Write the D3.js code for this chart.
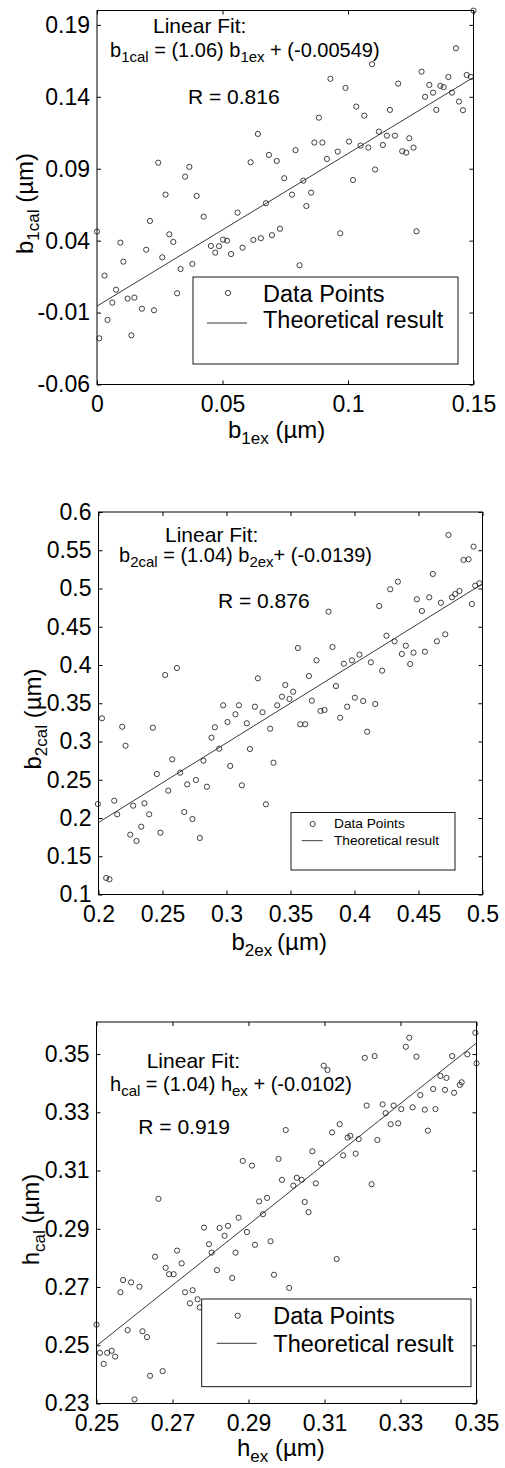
<!DOCTYPE html>
<html>
<head>
<meta charset="utf-8">
<script src="https://cdn.jsdelivr.net/npm/d3@7"></script>
<style>
body { margin: 0; background: #fff; }
svg text { font-family: "Liberation Sans", Arial, Helvetica, sans-serif; fill: #000; }
</style>
</head>
<body>
<svg id="chart" width="505" height="1468"></svg>
<script>
// Panel 1: b1
const b1XTicks = [0, 0.05, 0.1, 0.15]
const b1YTicks = [-0.06, -0.01, 0.04, 0.09, 0.14, 0.19]
const b1XLim = [0, 0.15]
const b1YLim = [-0.06, 0.2]
const b1Fit = [1.06, -0.00549]
const b1R = 0.816
const b1Points = [
    [0.150, 0.1999], [0.143, 0.1738], [0.1096, 0.1627], [0.1293, 0.1575], [0.1473, 0.1552],
    [0.149, 0.1538], [0.093, 0.1525], [0.140, 0.1538], [0.120, 0.1492], [0.1324, 0.1483],
    [0.1368, 0.1476], [0.1381, 0.1467], [0.099, 0.1462], [0.1339, 0.1429], [0.1414, 0.1429],
    [0.1307, 0.14], [0.1442, 0.1367], [0.1033, 0.1332], [0.1352, 0.1309], [0.1458, 0.1307],
    [0.1167, 0.1309], [0.1065, 0.1269], [0.0884, 0.1255], [0.0641, 0.1142], [0.1123, 0.1158],
    [0.1155, 0.113], [0.1187, 0.113], [0.1244, 0.1112], [0.0866, 0.1082], [0.0898, 0.1082],
    [0.1004, 0.1089], [0.1139, 0.1065], [0.105, 0.1061], [0.1081, 0.1047], [0.1261, 0.1047],
    [0.0791, 0.1029], [0.1216, 0.1022], [0.1232, 0.1012], [0.0959, 0.1019], [0.0685, 0.0996],
    [0.0716, 0.0954], [0.0916, 0.0968], [0.0612, 0.0945], [0.0244, 0.0942], [0.0368, 0.0913],
    [0.1108, 0.0895], [0.0351, 0.0845], [0.0746, 0.0834], [0.102, 0.0822], [0.0822, 0.0817],
    [0.0273, 0.072], [0.0397, 0.0711], [0.0777, 0.072], [0.0853, 0.0734], [0.0673, 0.066],
    [0.0834, 0.0641], [0.056, 0.0595], [0.0425, 0.0567], [0.0211, 0.0537], [0, 0.0463],
    [0.0969, 0.0451], [0.1273, 0.0465], [0.0729, 0.0483], [0.0288, 0.0444], [0.0697, 0.0438],
    [0.0304, 0.0391], [0.0093, 0.0386], [0.0502, 0.0407], [0.0518, 0.04], [0.0623, 0.0405],
    [0.0653, 0.0417], [0.0454, 0.0363], [0.0486, 0.0361], [0.058, 0.0351], [0.0471, 0.0317],
    [0.0534, 0.0307], [0.0196, 0.0337], [0.026, 0.0284], [0.0105, 0.0254], [0.0807, 0.0229],
    [0.038, 0.0238], [0.0333, 0.0203], [0.003, 0.0157], [0.0076, 0.0059], [0.0319, 0.0034],
    [0.0061, -0.0031], [0.0122, -0.0003], [0.0149, 0.0004], [0.0179, -0.0073], [0.0227, -0.0084],
    [0.0042, -0.0151], [0.0009, -0.0279], [0.0137, -0.0258]
]

// Panel 2: b2
const b2XTicks = [0.2, 0.25, 0.3, 0.35, 0.4, 0.45, 0.5]
const b2YTicks = [0.1, 0.15, 0.2, 0.25, 0.3, 0.35, 0.4, 0.45, 0.5, 0.55, 0.6]
const b2XLim = [0.2, 0.5]
const b2YLim = [0.1, 0.6]
const b2Fit = [1.04, -0.0139]
const b2R = 0.876
const b2Points = [
    [0.4734, 0.57], [0.493, 0.5547], [0.4852, 0.5373], [0.4891, 0.5382], [0.4612, 0.519],
    [0.4339, 0.5089], [0.4279, 0.499], [0.4977, 0.5068], [0.4943, 0.5037], [0.4487, 0.4859],
    [0.4584, 0.4885], [0.4675, 0.4814], [0.4761, 0.4885], [0.4787, 0.4928], [0.482, 0.4967],
    [0.4917, 0.4797], [0.4193, 0.4771], [0.3797, 0.4697], [0.4527, 0.4706], [0.425, 0.4383],
    [0.4313, 0.431], [0.4644, 0.431], [0.4709, 0.4401], [0.3558, 0.4222], [0.3828, 0.4235],
    [0.4401, 0.4252], [0.437, 0.4144], [0.4461, 0.4161], [0.455, 0.4174], [0.4435, 0.4013],
    [0.3703, 0.4061], [0.3917, 0.4017], [0.398, 0.4061], [0.4039, 0.4135], [0.4128, 0.4035],
    [0.4216, 0.3926], [0.2521, 0.3869], [0.2613, 0.3961], [0.3644, 0.3856], [0.3245, 0.3826],
    [0.3459, 0.3739], [0.3855, 0.3725], [0.3521, 0.3651], [0.3433, 0.3586], [0.3492, 0.3556],
    [0.3667, 0.3534], [0.3734, 0.3399], [0.3766, 0.3412], [0.4003, 0.3573], [0.4068, 0.353],
    [0.3943, 0.3455], [0.4162, 0.349], [0.3888, 0.3311], [0.4099, 0.3128], [0.2974, 0.3473],
    [0.3097, 0.3473], [0.3222, 0.3455], [0.3396, 0.3473], [0.307, 0.3356], [0.3281, 0.3382],
    [0.3008, 0.3255], [0.3159, 0.3238], [0.3576, 0.3225], [0.3615, 0.3225], [0.2909, 0.3186],
    [0.3341, 0.3167], [0.2883, 0.305], [0.2943, 0.2906], [0.3183, 0.2902], [0.2027, 0.3303],
    [0.2185, 0.3193], [0.2425, 0.318], [0.2211, 0.2945], [0.2576, 0.2767], [0.282, 0.2749],
    [0.3029, 0.268], [0.3367, 0.2723], [0.2456, 0.2575], [0.2638, 0.2592], [0.2545, 0.2357],
    [0.2693, 0.244], [0.2761, 0.2497], [0.2847, 0.2409], [0.312, 0.2427], [0.1995, 0.2183],
    [0.2123, 0.2226], [0.2359, 0.2192], [0.2271, 0.2161], [0.2146, 0.2048], [0.2396, 0.2048],
    [0.267, 0.2078], [0.2734, 0.1987], [0.3308, 0.2179], [0.2248, 0.1782], [0.2334, 0.1886],
    [0.2484, 0.1808], [0.2297, 0.17], [0.2792, 0.1739], [0.206, 0.1216], [0.2086, 0.1199]
]

// Panel 3: h
const hXTicks = [0.25, 0.27, 0.29, 0.31, 0.33, 0.35]
const hYTicks = [0.23, 0.25, 0.27, 0.29, 0.31, 0.33, 0.35]
const hXLim = [0.25, 0.35]
const hYLim = [0.23, 0.361]
const hFit = [1.04, -0.0102]
const hR = 0.919
const hPoints = [
    [0.3497, 0.3573], [0.3323, 0.3556], [0.3314, 0.3525], [0.3342, 0.3491], [0.3206, 0.3487],
    [0.3232, 0.3493], [0.3436, 0.3493], [0.3476, 0.3499], [0.35, 0.3468], [0.3098, 0.346],
    [0.3108, 0.3445], [0.3405, 0.3425], [0.3421, 0.3418], [0.3461, 0.3403], [0.3456, 0.3394],
    [0.3386, 0.338], [0.3417, 0.3377], [0.3352, 0.3359], [0.3441, 0.3367], [0.3211, 0.3323],
    [0.3253, 0.3327], [0.3282, 0.3323], [0.3302, 0.3311], [0.3332, 0.3317], [0.3364, 0.3309],
    [0.3392, 0.3311], [0.3261, 0.3297], [0.3274, 0.3259], [0.3294, 0.3262], [0.314, 0.3259],
    [0.3372, 0.3237], [0.2998, 0.3239], [0.312, 0.3231], [0.3161, 0.3213], [0.3168, 0.3219],
    [0.319, 0.3208], [0.3239, 0.3205], [0.3068, 0.3166], [0.3149, 0.3152], [0.3182, 0.3158],
    [0.2979, 0.314], [0.2885, 0.3133], [0.2909, 0.3117], [0.3091, 0.3125], [0.2988, 0.3068],
    [0.3027, 0.3075], [0.3018, 0.3048], [0.304, 0.3068], [0.3077, 0.3056], [0.3224, 0.3053],
    [0.2663, 0.3003], [0.2928, 0.2994], [0.2949, 0.3006], [0.3048, 0.2992], [0.2938, 0.295],
    [0.3058, 0.2957], [0.2874, 0.2938], [0.2783, 0.2904], [0.2824, 0.2903], [0.2846, 0.291],
    [0.2896, 0.2889], [0.2837, 0.2876], [0.2796, 0.2847], [0.2917, 0.2845], [0.2958, 0.2857],
    [0.2712, 0.2825], [0.2803, 0.2818], [0.2866, 0.2818], [0.2654, 0.2804], [0.2682, 0.2766],
    [0.2691, 0.2744], [0.2703, 0.2744], [0.2724, 0.2781], [0.2817, 0.2758], [0.2857, 0.2731],
    [0.2967, 0.2742], [0.3132, 0.2796], [0.3007, 0.2697], [0.257, 0.2724], [0.2591, 0.2716],
    [0.2613, 0.2701], [0.2563, 0.2682], [0.2733, 0.2682], [0.2753, 0.2689], [0.2746, 0.2644],
    [0.2766, 0.2658], [0.2772, 0.263], [0.25, 0.2571], [0.2582, 0.2552], [0.2621, 0.2548],
    [0.2633, 0.2528], [0.2509, 0.2474], [0.2528, 0.2474], [0.254, 0.2481], [0.2549, 0.2461],
    [0.2519, 0.2436], [0.2641, 0.2395], [0.2674, 0.2411], [0.26, 0.2314]
]

const legendLabels = ['Data Points', 'Theoretical result']

const svg = d3.select('#chart')
const tickFormat = d => String(+d.toFixed(4))
const markerRadius = 2.6

// Text made of plain and subscript pieces
function richText(sel, parts, size, subSize) {
    let shift = 0
    parts.forEach(p => {
        const target = p.sub ? Math.round(size * 0.27) : 0
        sel.append('tspan')
            .attr('font-size', p.sub ? subSize : size)
            .attr('dy', target - shift)
            .text(p.t)
        shift = target
    })
    return sel
}

function drawPanel(cfg) {
    const x = d3.scaleLinear().domain(cfg.xLim).range([cfg.left, cfg.right])
    const y = d3.scaleLinear().domain(cfg.yLim).range([cfg.bottom, cfg.top])
    const g = svg.append('g')

    // Axes, ticks pointing inward on all four sides
    const axes = [
        [d3.axisBottom(x).tickValues(cfg.xTicks).tickFormat(tickFormat).tickPadding(11), `translate(0,${cfg.bottom})`],
        [d3.axisTop(x).tickValues(cfg.xTicks).tickFormat(''), `translate(0,${cfg.top})`],
        [d3.axisLeft(y).tickValues(cfg.yTicks).tickFormat(tickFormat).tickPadding(7), `translate(${cfg.left},0)`],
        [d3.axisRight(y).tickValues(cfg.yTicks).tickFormat(''), `translate(${cfg.right},0)`]
    ]
    axes.forEach(([axis, tr]) => {
        const a = g.append('g')
            .attr('transform', tr)
            .call(axis.tickSizeInner(-4).tickSizeOuter(0))
            .attr('font-size', 23)
            .attr('font-family', null)
        a.select('.domain').remove()
        a.selectAll('line').attr('stroke', '#000').attr('stroke-width', 1)
    })

    // Frame
    g.append('rect')
        .attr('x', cfg.left)
        .attr('y', cfg.top)
        .attr('width', cfg.right - cfg.left)
        .attr('height', cfg.bottom - cfg.top)
        .attr('fill', 'none')
        .attr('stroke', '#000')
        .attr('stroke-width', 1)

    // Data points
    g.append('g').selectAll('circle')
        .data(cfg.points)
        .join('circle')
        .attr('cx', d => x(d[0]))
        .attr('cy', d => y(d[1]))
        .attr('r', markerRadius)
        .attr('fill', 'none')
        .attr('stroke', '#111')
        .attr('stroke-width', 0.8)

    // Fitted line
    const fitLine = cfg.xLim.map(v => [v, cfg.fit[0] * v + cfg.fit[1]])
    g.append('path')
        .attr('d', d3.line().x(d => x(d[0])).y(d => y(d[1]))(fitLine))
        .attr('fill', 'none')
        .attr('stroke', '#222')
        .attr('stroke-width', 0.9)

    // Annotations
    const t = cfg.text
    g.append('text').attr('x', t.fit[0]).attr('y', t.fit[1]).attr('font-size', t.size).text('Linear Fit:')
    richText(g.append('text').attr('x', t.eq[0]).attr('y', t.eq[1]), [
        { t: cfg.sym }, { t: cfg.sub + 'cal', sub: true },
        { t: ` = (${cfg.fit[0].toFixed(2)}) ${cfg.sym}` }, { t: cfg.sub + 'ex', sub: true },
        { t: `${cfg.plusSep}+ (${cfg.fit[1]})` }
    ], t.eqSize, t.eqSub)
    g.append('text').attr('x', t.r[0]).attr('y', t.r[1]).attr('font-size', t.size).text(`R = ${cfg.r}`)

    // Axis titles
    richText(g.append('text').attr('x', cfg.xTitle[0]).attr('y', cfg.xTitle[1]), [
        { t: cfg.sym }, { t: cfg.sub + 'ex', sub: true }, { t: cfg.xGap + '(µm)' }
    ], 24, 17)
    richText(g.append('text')
        .attr('transform', `translate(${cfg.yTitle[0]},${cfg.yTitle[1]}) rotate(-90)`)
        .attr('text-anchor', 'middle'), [
        { t: cfg.sym }, { t: cfg.sub + 'cal', sub: true }, { t: ' (µm)' }
    ], 24, 17)

    // Legend
    const L = cfg.legend
    g.append('rect')
        .attr('x', L.x).attr('y', L.y).attr('width', L.w).attr('height', L.h)
        .attr('fill', '#fff').attr('stroke', '#000').attr('stroke-width', 0.9)
    g.append('circle')
        .attr('cx', L.marker[0]).attr('cy', L.marker[1]).attr('r', markerRadius)
        .attr('fill', 'none').attr('stroke', '#111').attr('stroke-width', 0.8)
    g.append('line')
        .attr('x1', L.line[0]).attr('x2', L.line[1]).attr('y1', L.line[2]).attr('y2', L.line[2])
        .attr('stroke', '#222').attr('stroke-width', 0.9)
    g.append('text').attr('x', L.textX).attr('y', L.base[0]).attr('font-size', L.size).text(legendLabels[0])
    g.append('text').attr('x', L.textX).attr('y', L.base[1]).attr('font-size', L.size).text(legendLabels[1])
}

drawPanel({
    points: b1Points, xTicks: b1XTicks, yTicks: b1YTicks, xLim: b1XLim, yLim: b1YLim,
    fit: b1Fit, r: b1R, sym: 'b', sub: '1', plusSep: ' ', xGap: ' ',
    left: 97, right: 473.5, top: 10.5, bottom: 384.5,
    text: { fit: [153, 33], eq: [110, 57], r: [188, 104], size: 21, eqSize: 20, eqSub: 15 },
    xTitle: [228, 438], yTitle: [33, 203.5],
    legend: { x: 193, y: 277, w: 265, h: 87, marker: [228, 293], line: [207, 247, 323],
        textX: 263, base: [302, 328], size: 23.5 }
})

drawPanel({
    points: b2Points, xTicks: b2XTicks, yTicks: b2YTicks, xLim: b2XLim, yLim: b2YLim,
    fit: b2Fit, r: b2R, sym: 'b', sub: '2', plusSep: '', xGap: '\u2009',
    left: 98.5, right: 482.5, top: 512, bottom: 894.5,
    text: { fit: [165, 542], eq: [119, 561.5], r: [218, 608], size: 21, eqSize: 20, eqSub: 15 },
    xTitle: [231.5, 950], yTitle: [41, 719],
    legend: { x: 291, y: 812.5, w: 164, h: 57.5, marker: [312.7, 824], line: [301.7, 322.7, 840.7],
        textX: 334, base: [828, 845], size: 13.7 }
})

drawPanel({
    points: hPoints, xTicks: hXTicks, yTicks: hYTicks, xLim: hXLim, yLim: hYLim,
    fit: hFit, r: hR, sym: 'h', sub: '', plusSep: ' ', xGap: ' ',
    left: 96.5, right: 476.5, top: 1022, bottom: 1403.5,
    text: { fit: [146.7, 1068], eq: [110, 1091], r: [138.3, 1134], size: 21, eqSize: 20, eqSub: 15 },
    xTitle: [237, 1455.5], yTitle: [39, 1219.5],
    legend: { x: 201.7, y: 1299, w: 269.3, h: 87.7, marker: [237.7, 1315.7], line: [216.7, 256.7, 1343.3],
        textX: 273.3, base: [1324, 1351.7], size: 23.5 }
})
</script>
</body>
</html>
